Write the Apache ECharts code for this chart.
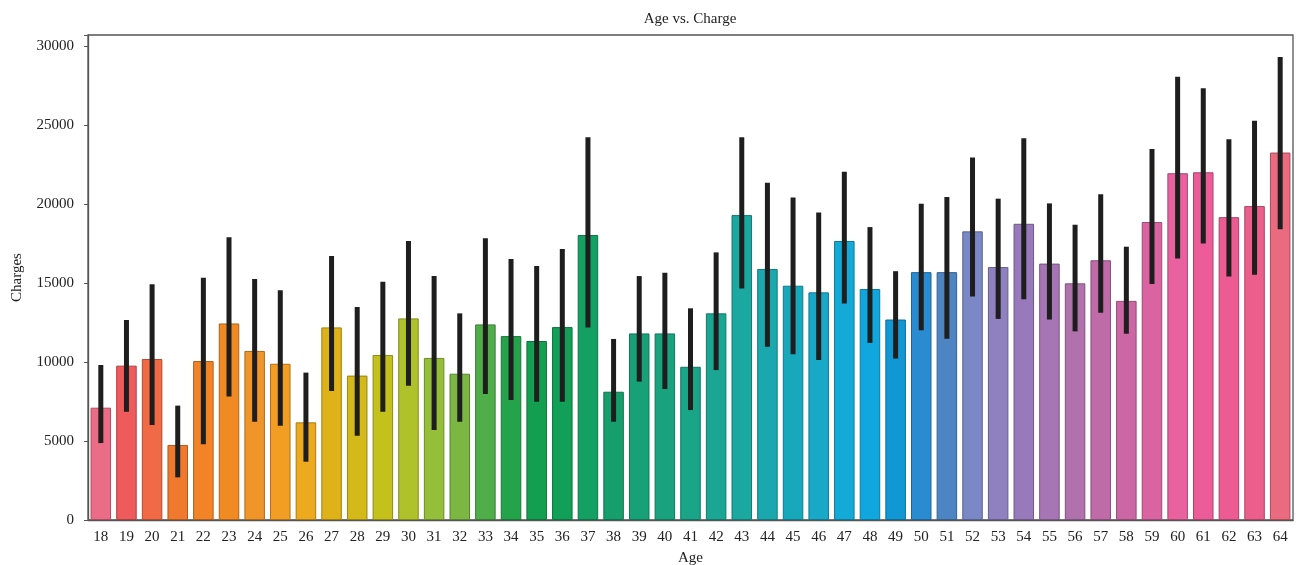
<!DOCTYPE html>
<html>
<head>
<meta charset="utf-8">
<script src="https://cdn.jsdelivr.net/npm/echarts@6/dist/echarts.min.js"></script>
<style>
  html, body { margin: 0; padding: 0; background: #ffffff; }
  #chart { width: 1296px; height: 565px; }
</style>
</head>
<body>
<div id="chart"></div>
<script>
// Ages on the x axis
const ages = ['18','19','20','21','22','23','24','25','26','27','28','29','30','31','32','33',
  '34','35','36','37','38','39','40','41','42','43','44','45','46','47','48','49','50','51',
  '52','53','54','55','56','57','58','59','60','61','62','63','64'];

// Mean charges per age
const meanCharges = [7110, 9770, 10190, 4750, 10060, 12440, 10700, 9890, 6180, 12190, 9140, 10440,
  12760, 10260, 9260, 12380, 11640, 11330, 12210, 18040, 8120, 11810, 11810, 9700, 13080,
  19300, 15890, 14830, 14410, 17660, 14620, 12690, 15690, 15690, 18270, 16010, 18750, 16230,
  14980, 16440, 13870, 18860, 21950, 22010, 19170, 19870, 23260];

// Confidence interval, lower bounds
const ciLow = [4870, 6850, 6010, 2700, 4790, 7810, 6220, 5970, 3690, 8160, 5340, 6860,
  8500, 5700, 6220, 7980, 7600, 7490, 7490, 12190, 6220, 8760, 8290, 6960, 9490,
  14660, 10970, 10490, 10130, 13710, 11210, 10220, 12010, 11470, 14150, 12730, 13980, 12690,
  11940, 13120, 11790, 14940, 16550, 17510, 15410, 15520, 18410];

// Confidence interval, upper bounds
const ciHigh = [9810, 12660, 14920, 7240, 15340, 17890, 15250, 14540, 9330, 16710, 13480, 15080,
  17660, 15440, 13080, 17830, 16520, 16080, 17150, 24220, 11460, 15440, 15650, 13400, 16940,
  24220, 21350, 20420, 19470, 22050, 18540, 15750, 20020, 20450, 22940, 20340, 24160, 20040,
  18690, 20620, 17300, 23480, 28060, 27330, 24100, 25270, 29300];

// Bar fill colours, sweeping round the hue wheel
const barColors = ['#ea6c86','#ef5a5c','#f06a45','#ef7a2e','#f28326','#f08a22','#f0952a','#f29e24',
  '#eeaa1e','#e0b21a','#d3b919','#c4c11d','#b0c22b','#95be3a','#7cb744','#50ae4a','#24a34b',
  '#149f50','#129f58','#14a062','#169f6d','#18a176','#1aa27e','#1aa488','#1aa692','#1aa8a0',
  '#1aa8ae','#18a8bc','#18a8c8','#14a9d6','#10a6de','#1197d3','#2a8bd0','#4c84c4','#7b88c6',
  '#8f81c0','#9879bc','#a676b4','#b071ad','#bf6ba8','#cb67a4','#da64a2','#e7629e','#ec5c98',
  '#ec5c93','#ec5e8b','#ea6a80'];

function darken(hex, f) {
  const n = parseInt(hex.slice(1), 16);
  const r = Math.round(((n >> 16) & 255) * f);
  const g = Math.round(((n >> 8) & 255) * f);
  const b = Math.round((n & 255) * f);
  return 'rgb(' + r + ',' + g + ',' + b + ')';
}

const serif = '"Liberation Serif", "DejaVu Serif", serif';
const chart = echarts.init(document.getElementById('chart'), null, { renderer: 'canvas' });

const barData = meanCharges.map((v, i) => ({
  value: v,
  itemStyle: { color: barColors[i], borderColor: darken(barColors[i], 0.72), borderWidth: 1 }
}));
const errData = ages.map((a, i) => [i, ciLow[i], ciHigh[i]]);

chart.setOption({
  animation: false,
  backgroundColor: '#ffffff',
  graphic: [{
    type: 'text',
    x: 690, y: 19,
    style: {
      text: 'Age vs. Charge', fill: '#222',
      font: '15px ' + serif, align: 'center', verticalAlign: 'middle'
    }
  }],
  grid: {
    left: 88, right: 3, top: 35, bottom: 45,
    outerBoundsMode: 'none',
    containLabel: false,
    show: true, borderColor: '#555', borderWidth: 1.3, backgroundColor: 'transparent'
  },
  xAxis: {
    type: 'category',
    data: ages,
    name: 'Age',
    nameLocation: 'middle',
    nameGap: 31,
    nameTextStyle: { fontFamily: serif, fontSize: 15, color: '#222' },
    axisLine: { lineStyle: { color: '#555', width: 1.3 } },
    axisTick: { alignWithLabel: true, length: 4, lineStyle: { color: '#555' } },
    axisLabel: { fontFamily: serif, fontSize: 15, color: '#222', margin: 10, interval: 0 }
  },
  yAxis: {
    type: 'value',
    min: 0, max: 30700, interval: 5000,
    name: 'Charges',
    nameLocation: 'middle',
    nameGap: 63,
    nameTextStyle: { fontFamily: serif, fontSize: 15, color: '#222' },
    splitLine: { show: false },
    axisLine: { show: true, lineStyle: { color: '#555', width: 1.3 } },
    axisTick: { show: true, length: 4, lineStyle: { color: '#555' } },
    axisLabel: {
      fontFamily: serif, fontSize: 15, color: '#222', margin: 14,
      formatter: v => (v % 5000 === 0 ? String(v) : '')
    }
  },
  series: [
    {
      type: 'bar',
      data: barData,
      barCategoryGap: '20%'
    },
    {
      type: 'custom',
      data: errData,
      z: 5,
      renderItem: function (params, api) {
        const x = api.value(0);
        const lo = api.coord([x, api.value(1)]);
        const hi = api.coord([x, api.value(2)]);
        return {
          type: 'line',
          shape: { x1: lo[0], y1: lo[1], x2: hi[0], y2: hi[1] },
          style: { stroke: '#1e1e1e', lineWidth: 5 }
        };
      }
    }
  ]
});
</script>
</body>
</html>
